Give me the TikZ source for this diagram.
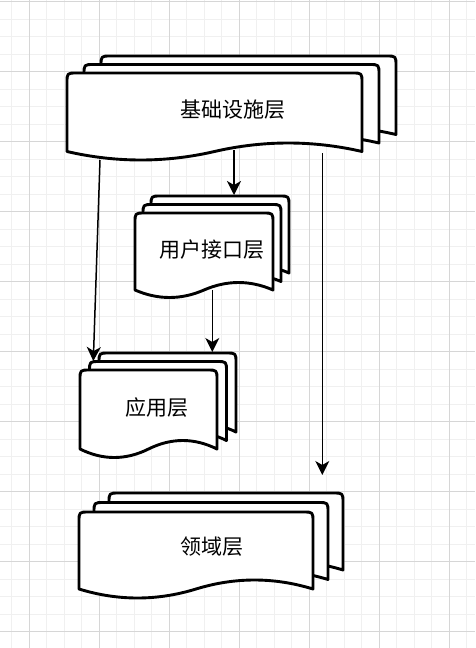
\documentclass[tikz,border=0pt]{standalone}
\usepackage{fontspec}
\newfontfamily\cjk{Noto Sans CJK SC}
\usetikzlibrary{arrows.meta}

\definecolor{gridminor}{RGB}{240,240,240}
\definecolor{gridmajor}{RGB}{214,214,214}

\tikzset{
  docline/.style={draw=black, line width=2.9pt, fill=white, line join=round},
  layertext/.style={font=\cjk\fontsize{21}{25}\selectfont, inner sep=0pt},
  link/.style={draw=black, line width=1.5pt, -{Stealth[length=14pt,width=14pt,inset=4pt]}},
}

% #1 left, #2 top, #3 width, #4 wave ends, #5 wave height
\newcommand{\docsheet}[5]{%
  \path[docline] (#1,#4) -- (#1,#2+10) .. controls (#1,#2) .. (#1+10,#2)
    -- (#1+#3-10,#2) .. controls (#1+#3,#2) .. (#1+#3,#2+10)
    -- (#1+#3,#4)
    .. controls (#1+#3*5/6,#4-#5*4/3) and (#1+#3*2/3,#4-#5*4/3) .. (#1+#3/2,#4)
    .. controls (#1+#3/3,#4+#5*4/3) and (#1+#3/6,#4+#5*4/3) .. (#1,#4)
    -- cycle;}
% three sheets, shifted by #6 right and #7 up
\newcommand{\multidoc}[7]{%
  \foreach \k in {2,1,0}{\docsheet{#1+\k*#6}{#2-\k*#7}{#3}{#4-\k*#7}{#5}}}

\begin{document}
\begin{tikzpicture}[x=1pt, y=-1pt]
  \useasboundingbox[fill=white] (0,0) rectangle (475,648);
  \foreach \gx in {0,...,26}
    \draw[gridminor, line width=1pt] (11.8+17.5*\gx,0) -- (11.8+17.5*\gx,648);
  \foreach \gy in {0,...,36}
    \draw[gridminor, line width=1pt] (0,1.7+17.5*\gy) -- (475,1.7+17.5*\gy);
  \foreach \gx in {0,...,6}
    \draw[gridmajor, line width=1pt] (29.3+70*\gx,0) -- (29.3+70*\gx,648);
  \foreach \gy in {0,...,9}
    \draw[gridmajor, line width=1pt] (0,1.7+70*\gy) -- (475,1.7+70*\gy);

  \multidoc{67}{73}{295}{151.5}{8.5}{17}{8.5}
  \multidoc{135}{213}{138}{290}{7.5}{8}{8.5}
  \multidoc{80}{370}{137}{449}{8.5}{9.5}{8.5}
  \multidoc{79}{512}{234}{589}{9}{15}{9.5}

  \node[layertext] (jichu) at (233,110) {基础设施层};
  \node[layertext] (yonghu) at (212,250) {用户接口层};
  \node[layertext] (yingyong) at (157,408) {应用层};
  \node[layertext] (lingyu) at (212,547) {领域层};

  \coordinate (jichu-a) at (234,150);
  \coordinate (jichu-b) at (100,160);
  \coordinate (jichu-c) at (322.3,153);
  \coordinate (yonghu-top) at (234,195);
  \coordinate (yonghu-bot) at (212.3,290);
  \coordinate (yingyong-l) at (93.3,361);
  \coordinate (yingyong-r) at (212.3,352);
  \coordinate (lingyu-in) at (322.3,475);

  \draw[link] (jichu-a) -- (yonghu-top);
  \draw[link] (jichu-b) -- (yingyong-l);
  \draw[link] (yonghu-bot) -- (yingyong-r);
  \draw[link] (jichu-c) -- (lingyu-in);
\end{tikzpicture}
\end{document}
